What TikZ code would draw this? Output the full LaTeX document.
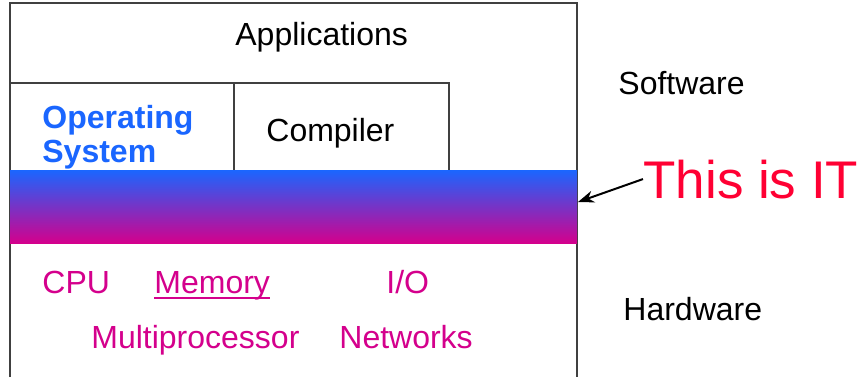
\documentclass[tikz,border=0pt]{standalone}
\usepackage{fontspec}
\setmainfont{Liberation Sans}
\usetikzlibrary{arrows.meta}

\definecolor{osblue}{RGB}{26,102,255}
\definecolor{hwmag}{RGB}{212,0,140}
\definecolor{itred}{RGB}{255,0,51}

\tikzset{
	layer/.style={draw=black!75, line width=0.6pt},
	word/.style={inner sep=0pt, anchor=base west, font=\fontsize{16}{17}\selectfont},
	hw/.style={word, text=hwmag}
}

\begin{document}
\begin{tikzpicture}[x=0.5pt, y=-0.5pt]
	\useasboundingbox (0,0) rectangle (862,377);
	
	% outer frame, open at the bottom
	\draw [layer] (10,377) -- (10,3) -- (577,3) -- (577,377);
	\draw [layer] (10,83) -- (234,83) -- (234,170);
	\draw [layer] (234,83) -- (449,83) -- (449,170);
	
	% the band
	\shade [top color=osblue, bottom color=hwmag] (10,170) rectangle (577,243);
	\coordinate (band) at (578,202);
	
	\node [word] (apps) at (235,45) {Applications};
	\node [word, text=osblue, font=\fontsize{16}{17}\bfseries] (os1) at (42,128) {Operating};
	\node [word, text=osblue, font=\fontsize{16}{17}\bfseries] (os2) at (42,162) {System};
	\node [word] (comp) at (266,141) {Compiler};
	
	\node [word] (sw) at (618,94) {Software};
	\node [word] (hwl) at (623,320) {Hardware};
	\node [word, text=itred, font=\fontsize{26.5}{28}\selectfont] (it) at (643,198) {This is IT};
	\draw [-{Stealth[length=8pt, width=6pt]}, line width=1pt] (it.west) -- (band);
	
	\node [hw] (cpu) at (42,293) {CPU};
	\node [hw] (mem) at (154,293) {Memory};
	\draw [hwmag, line width=1pt] ([yshift=-2.5pt]mem.base west) -- ([yshift=-2.5pt]mem.base east);
	\node [hw] (io) at (386,293) {I/O};
	\node [hw] (mp) at (91,348) {Multiprocessor};
	\node [hw] (net) at (339,348) {Networks};
	
\end{tikzpicture}
\end{document}
